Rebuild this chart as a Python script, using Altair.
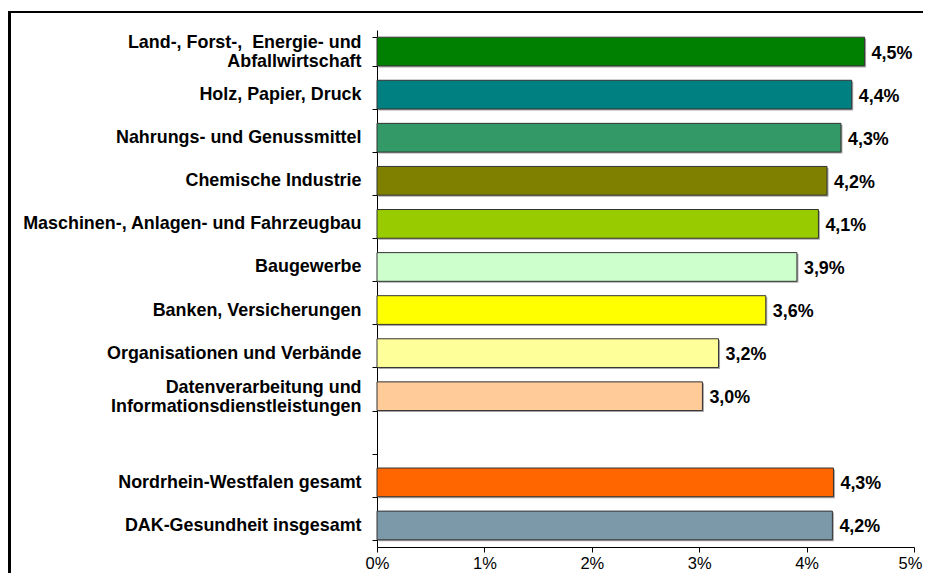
import altair as alt
import pandas as pd

categories = [
    "Land-, Forst-,\u00a0 Energie- und|Abfallwirtschaft",
    "Holz, Papier, Druck",
    "Nahrungs- und Genussmittel",
    "Chemische Industrie",
    "Maschinen-, Anlagen- und Fahrzeugbau",
    "Baugewerbe",
    "Banken, Versicherungen",
    "Organisationen und Verbände",
    "Datenverarbeitung und|Informationsdienstleistungen",
    " ",
    "Nordrhein-Westfalen gesamt",
    "DAK-Gesundheit insgesamt",
]
values = [4.54, 4.42, 4.32, 4.19, 4.11, 3.91, 3.62, 3.18, 3.03, None, 4.25, 4.24]
value_labels = ["4,5%", "4,4%", "4,3%", "4,2%", "4,1%", "3,9%", "3,6%", "3,2%", "3,0%", "", "4,3%", "4,2%"]
colors = ["#008000", "#008080", "#339966", "#808000", "#99CC00", "#CCFFCC",
          "#FFFF00", "#FFFF99", "#FFCC99", "#FFFFFF", "#FF6600", "#7C99AA"]
x_ticks = [0, 1, 2, 3, 4, 5]

rows = [
    {"cat": c, "value": v, "label": l, "color": col}
    for c, v, l, col in zip(categories, values, value_labels, colors)
    if v is not None
]
df = pd.DataFrame(rows)

FONT = "Liberation Sans"

y_enc = alt.Y(
    "cat:N",
    sort=categories,
    scale=alt.Scale(domain=categories, paddingInner=0.334, paddingOuter=0.167),
    axis=alt.Axis(
        title=None,
        labelExpr="split(datum.label, '|')",
        labelBaseline={"condition": {"test": "indexof(datum.label, '|') >= 0", "value": "bottom"},
                       "value": "middle"},
        labelFont=FONT,
        labelFontSize=17.9,
        labelFontWeight="bold",
        labelColor="black",
        labelLineHeight=19,
        labelLimit=0,
        labelPadding=11,
        tickSize=5,
        tickColor="black",
        domainColor="black",
        tickBand="extent",
        grid=False,
    ),
)

x_enc = alt.X(
    "value:Q",
    scale=alt.Scale(domain=[0, 5], nice=False),
    axis=alt.Axis(
        title=None,
        values=x_ticks,
        labelExpr="datum.value + '%'",
        labelFont=FONT,
        labelFontSize=16.5,
        labelColor="black",
        labelFlush=False,
        labelOffset={"condition": {"test": "datum.value >= 5", "value": -4}, "value": 0},
        labelPadding=3,
        tickSize=5,
        tickColor="black",
        domainColor="black",
        grid=False,
    ),
)

shadow = alt.Chart(df).mark_bar(color="#A8A8A8", xOffset=1.5, yOffset=1.5).encode(
    x="value:Q",
    y=alt.Y("cat:N", sort=categories),
)

bars = alt.Chart(df).mark_bar(stroke="#333333", strokeWidth=1).encode(
    x=x_enc,
    y=y_enc,
    color=alt.Color("color:N", scale=None),
)

texts = alt.Chart(df).mark_text(
    align="left", baseline="middle", dx=7, dy=2,
    font=FONT, fontSize=17.9, fontWeight="bold", color="black",
).encode(
    x="value:Q",
    y=alt.Y("cat:N", sort=categories),
    text="label:N",
)

border_left = alt.Chart(df).mark_rule(color="black", strokeWidth=2).encode(
    x=alt.value(-367.5), y=alt.value(-18), y2=alt.value(620)
)
border_top = alt.Chart(df).mark_rule(color="black", strokeWidth=2).encode(
    x=alt.value(-368.5), x2=alt.value(700), y=alt.value(-18)
)

chart = alt.layer(shadow, bars, texts, border_left, border_top).properties(
    width=537,
    height=517,
    padding={"left": 369, "top": 22, "right": 9, "bottom": 26},
    autosize=alt.AutoSizeParams(type="none"),
).configure_view(stroke=None)

chart.save("out.html", embed_options={"renderer": "svg", "actions": False})
